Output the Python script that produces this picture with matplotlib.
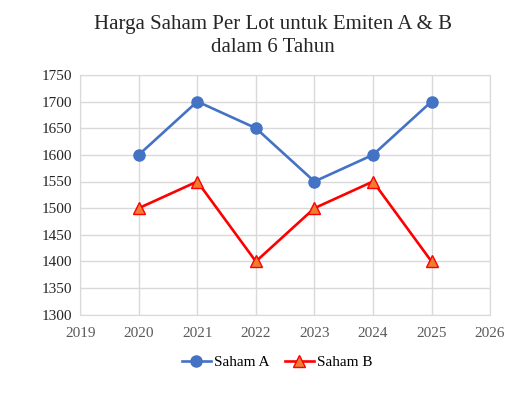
import matplotlib
matplotlib.use("Agg")
import matplotlib.pyplot as plt

plt.rcParams['font.family'] = ['Liberation Serif', 'DejaVu Serif']

years = [2020, 2021, 2022, 2023, 2024, 2025]
saham_a = [1600, 1700, 1650, 1550, 1600, 1700]
saham_b = [1500, 1550, 1400, 1500, 1550, 1400]

fig = plt.figure(figsize=(5.31, 3.96), dpi=100)
ax = fig.add_axes([0.151, 0.205, 0.772, 0.606])

ax.plot(years, saham_a, color='#4472C4', linewidth=1.9, marker='o', markersize=8,
        markerfacecolor='#4472C4', markeredgecolor='#4472C4', label='Saham A', zorder=3)
ax.plot(years, saham_b, color='#FF0000', linewidth=1.9, marker='^', markersize=8,
        markerfacecolor='#ED7D31', markeredgecolor='#FF0000', label='Saham B', zorder=3)

ax.set_xlim(2019, 2026)
ax.set_ylim(1300, 1750)
ax.set_xticks(range(2019, 2027))
ax.set_yticks(range(1300, 1751, 50))
ax.grid(True, color='#D9D9D9', linewidth=1)
ax.set_axisbelow(True)
for s in ax.spines.values():
    s.set_color('#D9D9D9')
ax.tick_params(length=0, pad=6)
ax.tick_params(axis='x', labelsize=11, labelcolor='#595959', pad=9)
ax.tick_params(axis='y', labelsize=11, labelcolor='#262626')

fig.text(0.514, 0.962, 'Harga Saham Per Lot untuk Emiten A & B\ndalam 6 Tahun',
         ha='center', va='top', fontsize=15, color='#262626', linespacing=1.3)

fig.legend(loc='center', bbox_to_anchor=(0.522, 0.085), ncol=2, frameon=False,
           fontsize=11, handlelength=1.9, columnspacing=1.0, handletextpad=0.2)

fig.savefig('out.png', dpi=100)
